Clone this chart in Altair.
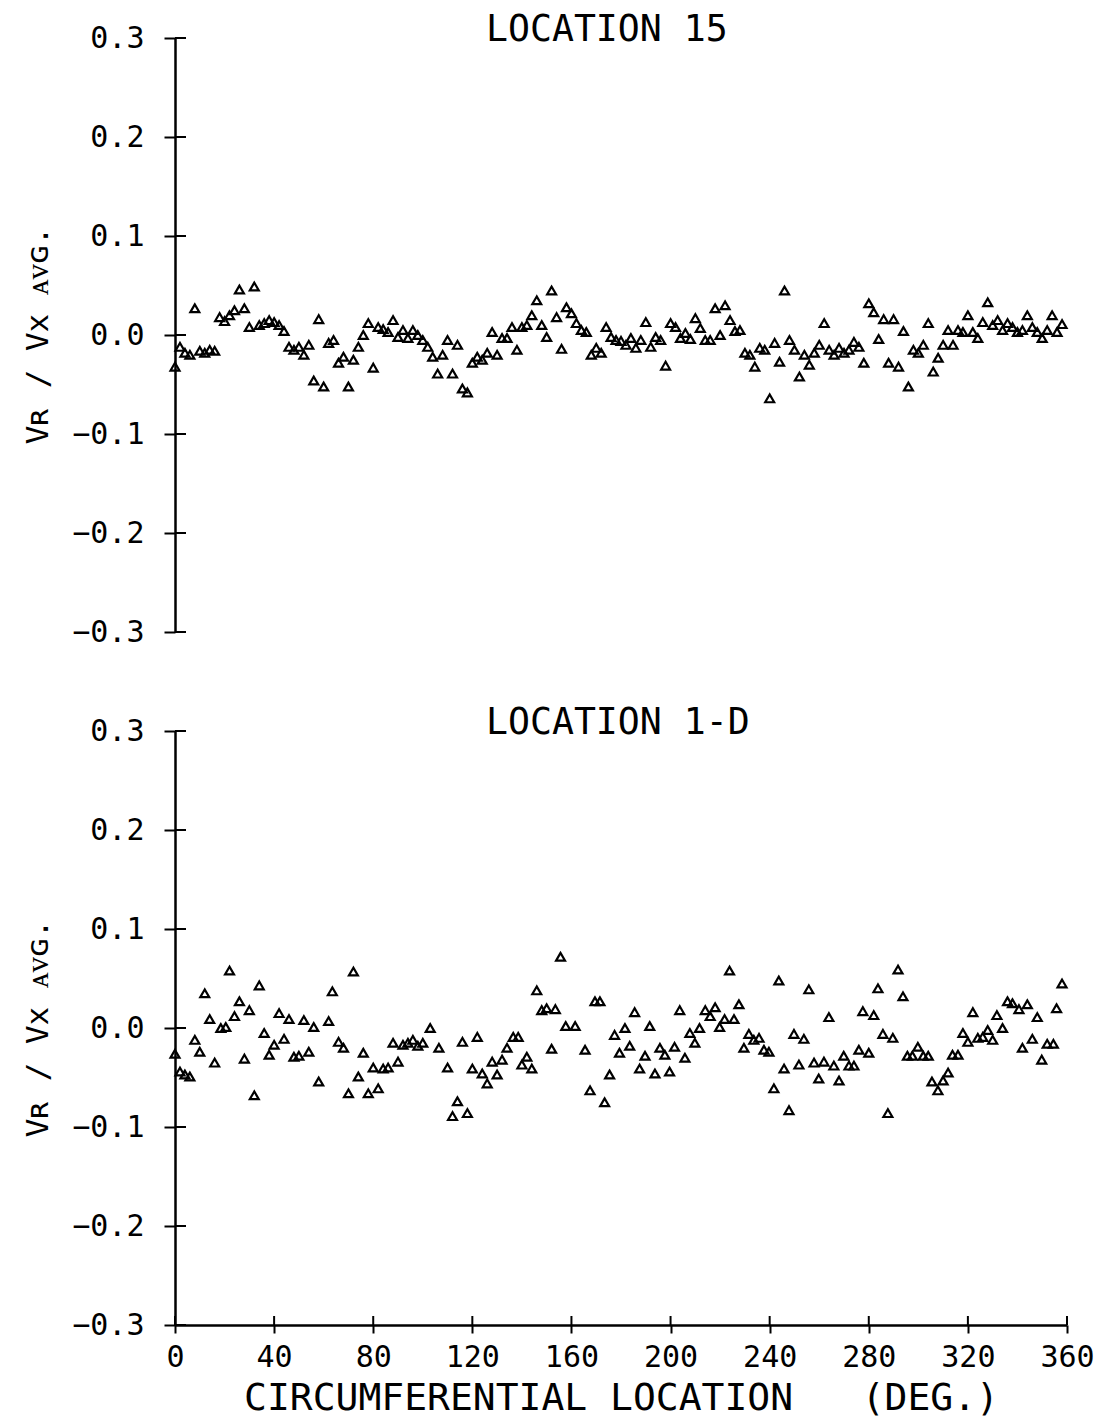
import altair as alt
import pandas as pd

FONT = "DejaVu Sans Mono"

# ---- Top panel: LOCATION 15 ----
top_deg = list(range(0, 360, 2))
top_val = [
    -0.032, -0.012, -0.018, -0.020, 0.027, -0.016, -0.018, -0.015, -0.016, 0.018,
    0.014, 0.020, 0.025, 0.046, 0.027, 0.008, 0.049, 0.010, 0.012, 0.015,
    0.013, 0.010, 0.004, -0.012, -0.015, -0.012, -0.020, -0.010, -0.046, 0.016,
    -0.052, -0.008, -0.005, -0.028, -0.022, -0.052, -0.025, -0.012, 0.000, 0.012,
    -0.033, 0.008, 0.006, 0.003, 0.015, -0.002, 0.005, -0.003, 0.005, 0.000,
    -0.005, -0.012, -0.022, -0.039, -0.020, -0.005, -0.039, -0.010, -0.054, -0.058,
    -0.028, -0.022, -0.025, -0.018, 0.003, -0.020, -0.003, -0.003, 0.008, -0.015,
    0.008, 0.010, 0.020, 0.035, 0.010, -0.002, 0.045, 0.018, -0.014, 0.028,
    0.022, 0.012, 0.005, 0.003, -0.020, -0.013, -0.018, 0.008, -0.002, -0.005,
    -0.006, -0.010, -0.003, -0.013, -0.005, 0.013, -0.012, -0.002, -0.005, -0.031,
    0.012, 0.008, -0.003, 0.002, -0.004, 0.017, 0.007, -0.005, -0.005, 0.027,
    0.000, 0.030, 0.015, 0.004, 0.005, -0.018, -0.020, -0.032, -0.013, -0.015,
    -0.064, -0.008, -0.027, 0.045, -0.005, -0.015, -0.042, -0.020, -0.030, -0.018,
    -0.010, 0.012, -0.015, -0.020, -0.013, -0.018, -0.015, -0.007, -0.012, -0.028,
    0.032, 0.023, -0.004, 0.016, -0.028, 0.016, -0.032, 0.004, -0.052, -0.015,
    -0.018, -0.010, 0.012, -0.037, -0.023, -0.010, 0.005, -0.010, 0.005, 0.003,
    0.020, 0.003, -0.003, 0.013, 0.033, 0.010, 0.015, 0.005, 0.012, 0.008,
    0.003, 0.005, 0.020, 0.008, 0.003, -0.003, 0.005, 0.020, 0.003, 0.011,
]

# ---- Bottom panel: LOCATION 1-D ----
bot_deg = [
    0, 2, 4, 6, 8, 10, 12, 14, 16, 18.5, 20.5, 22, 24, 26, 28, 30, 32, 34, 36, 38,
    40, 42, 44, 46, 48, 50, 52, 54, 56, 58, 62, 63.5, 66, 68, 70, 72, 74, 76, 78, 80,
    82, 84, 86, 88, 90, 92, 94, 96, 98, 100, 103, 106.5, 110, 112, 114, 116, 118, 120, 122, 124,
    126, 128, 130, 132, 134, 136.5, 138.5, 140, 142, 144, 146, 148, 150, 152, 153.5, 155.6, 157.7, 161.5, 165.5, 167.5,
    169.5, 171.5, 173.4, 175.4, 177.4, 179.4, 181.6, 183.5, 185.5, 187.5, 189.7, 191.6, 193.7, 195.7, 197.7, 199.6, 201.6, 203.7, 205.8, 207.8,
    209.8, 211.7, 214, 216, 218, 219.8, 221.8, 223.8, 225.6, 227.6, 229.6, 231.6, 233.6, 235.7, 237.7, 239.7, 241.7, 243.7, 245.8, 247.8,
    249.8, 251.8, 253.8, 255.8, 257.9, 259.8, 261.9, 263.9, 265.9, 268, 269.9, 272, 274, 276, 277.6, 280, 282, 283.7, 285.7, 287.7,
    289.7, 291.8, 293.8, 295.6, 297.6, 299.8, 302, 304, 305.5, 307.9, 310, 312, 313.8, 316, 318, 320, 322, 324, 326, 328,
    330, 331.7, 334, 336, 338, 340.6, 342, 344, 346, 348, 349.8, 352, 354.5, 355.8, 358,
]
bot_val = [
    -0.026, -0.044, -0.047, -0.049, -0.012, -0.024, 0.035, 0.009, -0.035, 0.000, 0.001, 0.058, 0.012, 0.027, -0.031, 0.018, -0.068, 0.043, -0.005, -0.027,
    -0.017, 0.015, -0.011, 0.009, -0.029, -0.028, 0.008, -0.024, 0.001, -0.054, 0.007, 0.037, -0.014, -0.020, -0.066, 0.057, -0.049, -0.025, -0.066, -0.040,
    -0.061, -0.041, -0.040, -0.015, -0.034, -0.017, -0.015, -0.012, -0.018, -0.015, 0.000, -0.020, -0.040, -0.089, -0.074, -0.014, -0.086, -0.041, -0.009, -0.046,
    -0.056, -0.034, -0.047, -0.032, -0.020, -0.009, -0.009, -0.037, -0.029, -0.041, 0.038, 0.018, 0.020, -0.021, 0.019, 0.072, 0.002, 0.002, -0.022, -0.063,
    0.027, 0.027, -0.075, -0.047, -0.007, -0.025, 0.000, -0.018, 0.016, -0.041, -0.028, 0.002, -0.046, -0.020, -0.027, -0.044, -0.019, 0.018, -0.030, -0.005,
    -0.015, 0.000, 0.018, 0.012, 0.021, 0.001, 0.009, 0.058, 0.009, 0.024, -0.020, -0.006, -0.012, -0.010, -0.022, -0.024, -0.061, 0.048, -0.041, -0.083,
    -0.006, -0.037, -0.011, 0.039, -0.035, -0.051, -0.034, 0.011, -0.038, -0.053, -0.028, -0.038, -0.038, -0.022, 0.017, -0.025, 0.013, 0.040, -0.006, -0.086,
    -0.010, 0.059, 0.032, -0.028, -0.028, -0.019, -0.028, -0.028, -0.054, -0.063, -0.053, -0.045, -0.027, -0.027, -0.005, -0.014, 0.016, -0.010, -0.009, -0.002,
    -0.012, 0.013, 0.000, 0.027, 0.025, 0.019, -0.020, 0.024, -0.011, 0.011, -0.032, -0.016, -0.016, 0.020, 0.045,
]

y_ticks = [-0.3, -0.2, -0.1, 0.0, 0.1, 0.2, 0.3]
x_ticks = [0, 40, 80, 120, 160, 200, 240, 280, 320, 360]

W, H = 892, 594
Y_TITLE = "Vʀ / Vx ᴀᴠɢ."
X_TITLE = "CIRCUMFERENTIAL LOCATION\u00a0\u00a0\u00a0(DEG.)"

top_df = pd.DataFrame({"deg": top_deg, "val": top_val})
bot_df = pd.DataFrame({"deg": bot_deg, "val": bot_val})
ytick_df = pd.DataFrame({"v": y_ticks})
xtick_df = pd.DataFrame({"d": x_ticks})

xscale = alt.Scale(domain=[0, 360], nice=False, zero=False)
yscale = alt.Scale(domain=[-0.3, 0.3], nice=False, zero=False)

pt = dict(shape="triangle-up", filled=False, color="black", strokeWidth=2.2,
          size=80, opacity=1)

y_axis_left = alt.Axis(values=y_ticks, format=".1f", tickSize=11, tickWidth=2,
                       tickColor="black", domainColor="black", domainWidth=2.5,
                       labelFont=FONT, labelFontSize=30, labelColor="black",
                       labelPadding=20, grid=False, title=Y_TITLE,
                       titleFont=FONT, titleFontSize=31, titleFontWeight="normal",
                       titleColor="black", titlePadding=17)


def panel(df, title, with_x):
    if with_x:
        x_axis = alt.Axis(values=x_ticks, tickSize=8, tickWidth=2, tickColor="black",
                          domainColor="black", domainWidth=2.5, labelFont=FONT,
                          labelFontSize=30, labelColor="black", labelPadding=9,
                          labelFlush=False, grid=False, title=X_TITLE,
                          titleFont=FONT, titleFontSize=38, titleFontWeight="normal",
                          titleColor="black", titlePadding=7)
    else:
        x_axis = None
    main = alt.Chart(df).mark_point(**pt).encode(
        x=alt.X("deg:Q", scale=xscale, axis=x_axis),
        y=alt.Y("val:Q", scale=yscale, axis=y_axis_left),
    )
    # inward half of the crossing y ticks
    yin = alt.Chart(ytick_df).mark_rule(color="black", strokeWidth=2).encode(
        y=alt.Y("v:Q", scale=yscale),
        x=alt.value(0), x2=alt.value(11),
    )
    ttl = alt.Chart(pd.DataFrame({"t": [title]})).mark_text(
        font=FONT, fontSize=36.5, color="black", baseline="alphabetic", align="left"
    ).encode(text="t:N", x=alt.value(311), y=alt.value(3))
    layers = [main, yin, ttl]
    if with_x:
        xin = alt.Chart(xtick_df).mark_rule(color="black", strokeWidth=2).encode(
            x=alt.X("d:Q", scale=xscale),
            y=alt.value(H), y2=alt.value(H - 9),
        )
        layers.append(xin)
    return alt.layer(*layers).properties(width=W, height=H)


top = panel(top_df, "LOCATION 15", False)
bot = panel(bot_df, "LOCATION 1-D", True)

chart = alt.vconcat(top, bot, spacing=58).properties(
    padding={"left": 14, "top": 4, "right": 2, "bottom": 2},
    background="white",
).configure_view(stroke="transparent", strokeWidth=0)

chart.save("out.html", embed_options={"renderer": "svg", "actions": False})
